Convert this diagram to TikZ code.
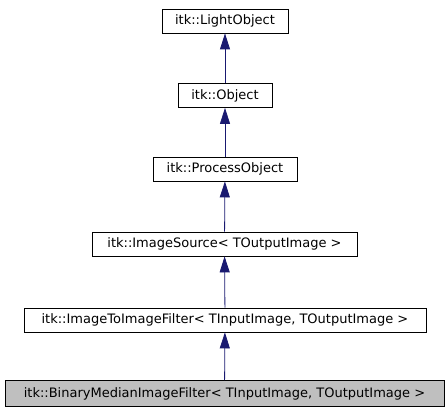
\documentclass[tikz,border=0pt]{standalone}
\usepackage{fontspec}
\setmainfont{DejaVu Sans}
\usetikzlibrary{arrows.meta}
\definecolor{edgeblue}{HTML}{191970}
\definecolor{boxgray}{HTML}{BFBFBF}
\begin{document}
\begin{tikzpicture}[x=1pt,y=-1pt,
  cls/.style={draw=black,fill=white,line width=0.8pt,inner sep=0pt,minimum height=24pt,font=\fontsize{13}{15}\selectfont},
  cur/.style={cls,fill=boxgray},
  inh/.style={draw=edgeblue,line width=0.8pt,-{Triangle[width=10pt,length=16pt]}}]
\useasboundingbox (0,0) rectangle (448,411);
\node[cls,minimum width=126pt] (lo) at (225,21) {itk::LightObject};
\node[cls,minimum width=94pt] (ob) at (225,95.5) {itk::Object};
\node[cls,minimum width=144pt] (po) at (225,169) {itk::ProcessObject};
\node[cls,minimum width=265pt] (is) at (224.5,244) {itk::ImageSource< TOutputImage >};
\node[cls,minimum width=402pt] (ii) at (225,320) {itk::ImageToImageFilter< TInputImage, TOutputImage >};
\node[cur,minimum width=439pt,minimum height=26pt] (bm) at (224.5,393.5) {itk::BinaryMedianImageFilter< TInputImage, TOutputImage >};
\draw[inh] (ob) -- (lo);
\draw[inh] (po) -- (ob);
\draw[inh] (is) -- (po);
\draw[inh] (ii) -- (is);
\draw[inh] (bm) -- (ii);
\end{tikzpicture}
\end{document}
